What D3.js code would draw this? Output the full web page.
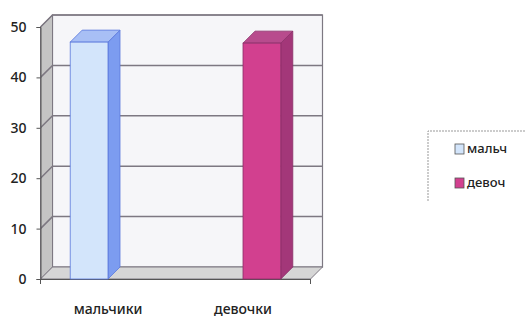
<!DOCTYPE html>
<html>
<head>
<meta charset="utf-8">
<script src="https://cdn.jsdelivr.net/npm/d3@7"></script>
<style>
  body { margin: 0; background: #fff; }
  text { font-family: "Noto Sans", "DejaVu Sans", sans-serif; }
</style>
</head>
<body>
<div id="chart"></div>
<script>
// data
const categories = ["мальчики", "девочки"];
const seriesNames = ["мальч", "девоч"];
const boys = [47, 0];
const girls = [0, 46.8];
const yTicks = [0, 10, 20, 30, 40, 50];

const W = 526, H = 318;
const depth = 12; // 3d offset

const svg = d3.select("#chart").append("svg")
  .attr("width", W).attr("height", H);

const x0 = d3.scaleBand().domain(categories).range([40.5, 310.5]);
const x1 = d3.scaleBand().domain(seriesNames)
  .range([x0.bandwidth() * 0.22, x0.bandwidth() * 0.78]);
const y = d3.scaleLinear().domain([0, 50]).range([279, 27]);

const left = x0.range()[0], right = x0.range()[1];
const y0 = y(0), yTop = y(50);

// back wall
svg.append("rect")
  .attr("x", left + depth).attr("y", yTop - depth)
  .attr("width", right - left).attr("height", y0 - yTop)
  .attr("fill", "#f6f6f9").attr("stroke", "#7d7882").attr("stroke-width", 1.2);

// left wall
svg.append("path")
  .attr("d", `M${left},${yTop}L${left + depth},${yTop - depth}L${left + depth},${y0 - depth}L${left},${y0}Z`)
  .attr("fill", "#c4c4c4").attr("stroke", "#7d7882");

// floor
svg.append("path")
  .attr("d", `M${left},${y0}L${left + depth},${y0 - depth}L${right + depth},${y0 - depth}L${right},${y0}Z`)
  .attr("fill", "#d6d6d6").attr("stroke", "#7d7882");

// grid lines
yTicks.filter(v => v > 0).forEach(v => {
  svg.append("path")
    .attr("d", `M${left},${y(v)}L${left + depth},${y(v) - depth}L${right + depth},${y(v) - depth}`)
    .attr("fill", "none").attr("stroke", "#7d7882").attr("stroke-width", 1.5);
});

// y axis
const yAxis = svg.append("g")
  .attr("transform", `translate(${left},0)`)
  .call(d3.axisLeft(y).tickValues(yTicks).tickSize(4).tickPadding(10));
yAxis.select(".domain").attr("stroke", "#555");
yAxis.selectAll("line").attr("stroke", "#555");
yAxis.selectAll("text").attr("fill", "#222").style("font-size", "14px").style("font-weight", "500");

// x axis
const xAxis = svg.append("g")
  .attr("transform", `translate(0,${y0})`)
  .call(d3.axisBottom(x0).tickSize(0).tickPadding(25));
xAxis.select(".domain").attr("stroke", "#555");
xAxis.selectAll("text").attr("fill", "#222").style("font-size", "14px").style("font-weight", "500");
[left, right].forEach(xx => {
  xAxis.append("line").attr("x1", xx).attr("x2", xx).attr("y1", 0).attr("y2", 5).attr("stroke", "#555");
});

const colors = {
  "мальч": { front: "#d3e5fb", side: "#7c9cf0", top: "#a8bff5", stroke: "#5b78dc" },
  "девоч": { front: "#d2408f", side: "#a33779", top: "#b84b8d", stroke: "#8a2f68" }
};

const rows = [];
categories.forEach((c, i) => {
  rows.push({ cat: c, s: "мальч", v: boys[i] });
  rows.push({ cat: c, s: "девоч", v: girls[i] });
});

rows.filter(d => d.v > 0).forEach(d => {
  const bx = x0(d.cat) + x1(d.s);
  const bw = x1.bandwidth();
  const by = y(d.v);
  const col = colors[d.s];
  // side
  svg.append("path")
    .attr("d", `M${bx + bw},${by}L${bx + bw + depth},${by - depth}L${bx + bw + depth},${y0 - depth}L${bx + bw},${y0}Z`)
    .attr("fill", col.side).attr("stroke", col.stroke).attr("stroke-width", 0.8);
  // top
  svg.append("path")
    .attr("d", `M${bx},${by}L${bx + depth},${by - depth}L${bx + bw + depth},${by - depth}L${bx + bw},${by}Z`)
    .attr("fill", col.top).attr("stroke", col.stroke).attr("stroke-width", 0.8);
  // front
  svg.append("rect")
    .attr("x", bx).attr("y", by).attr("width", bw).attr("height", y0 - by)
    .attr("fill", col.front).attr("stroke", col.stroke).attr("stroke-width", 0.8);
});

// legend
const legend = svg.append("g").attr("transform", "translate(428,131)");
legend.append("path")
  .attr("d", "M0,70V0H110")
  .attr("fill", "none").attr("stroke", "#999").attr("stroke-width", 1)
  .attr("stroke-dasharray", "2,1");
seriesNames.forEach((s, i) => {
  legend.append("rect")
    .attr("x", 27).attr("y", 13 + i * 34).attr("width", 9).attr("height", 10)
    .attr("fill", colors[s].front).attr("stroke", "#555").attr("stroke-width", 0.8);
  legend.append("text")
    .attr("x", 39).attr("y", 18 + i * 34)
    .attr("dominant-baseline", "middle")
    .attr("fill", "#222").style("font-size", "13px").style("font-weight", "500")
    .text(s);
});
</script>
</body>
</html>
